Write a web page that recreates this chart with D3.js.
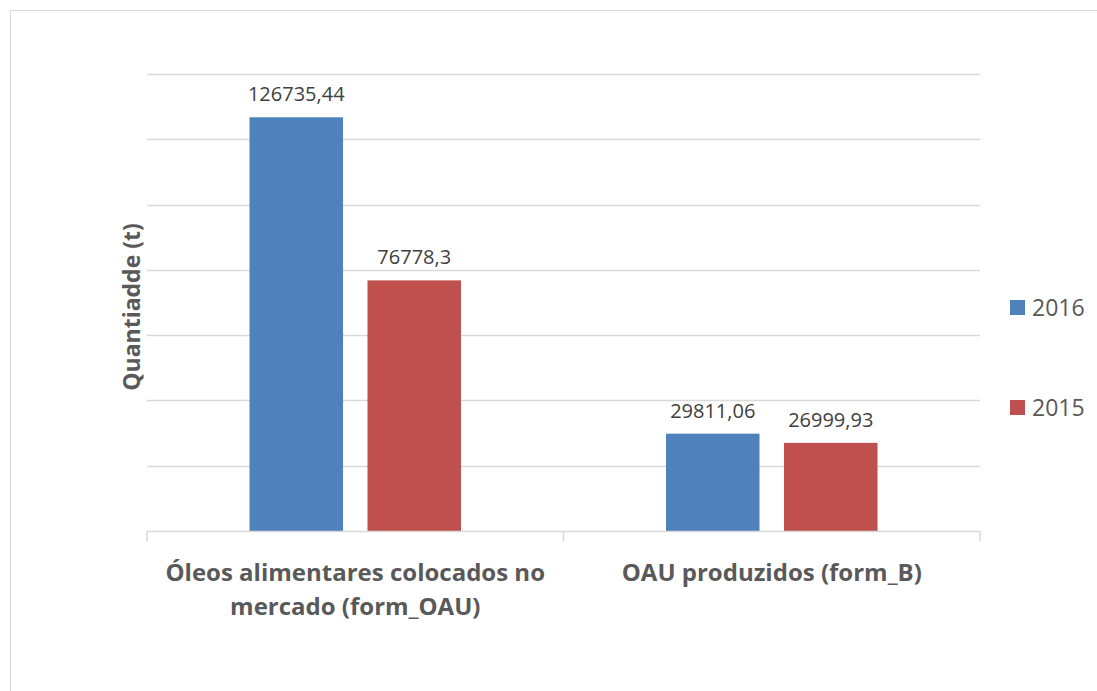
<!DOCTYPE html>
<html>
<head>
<meta charset="utf-8">
<script src="https://cdn.jsdelivr.net/npm/d3@7"></script>
<style>
  html, body { margin: 0; padding: 0; background: #fff; }
  svg { display: block; }
  text { font-family: "Open Sans", "Liberation Sans", sans-serif; }
</style>
</head>
<body>
<svg id="chart" width="1097" height="691"></svg>
<script>
// Categories, series and values
const categories = ["Óleos alimentares colocados no|mercado (form_OAU)", "OAU produzidos (form_B)"];
const seriesNames = ["2016", "2015"];
const values2016 = [126735.44, 29811.06];
const values2015 = [76778.3, 26999.93];
const valueLabels2016 = ["126735,44", "29811,06"];
const valueLabels2015 = ["76778,3", "26999,93"];
const gridTicks = [0, 20000, 40000, 60000, 80000, 100000, 120000, 140000];
const colors = ["#4F81BD", "#C0504D"];

const svg = d3.select("#chart");

// Outer chart frame
svg.append("rect")
  .attr("x", 10.5).attr("y", 10.5)
  .attr("width", 1100).attr("height", 700)
  .attr("fill", "none").attr("stroke", "#D9D9D9").attr("stroke-width", 1);

const plot = { left: 147, right: 980, top: 74, bottom: 531 };

const x = d3.scaleBand()
  .domain(categories)
  .range([plot.left, plot.right])
  .paddingInner(0).paddingOuter(0);

const y = d3.scaleLinear()
  .domain([0, 140000])
  .range([plot.bottom, plot.top]);

// Horizontal gridlines
svg.append("g")
  .selectAll("line")
  .data(gridTicks.slice(1))
  .join("line")
  .attr("x1", plot.left).attr("x2", plot.right)
  .attr("y1", d => Math.round(y(d)) + 0.5)
  .attr("y2", d => Math.round(y(d)) + 0.5)
  .attr("stroke", "#D9D9D9").attr("stroke-width", 1.5);

// Inner band for the two series within each category
const x1 = d3.scaleBand()
  .domain(seriesNames)
  .range([0, x.bandwidth()])
  .paddingInner(0.2076)
  .paddingOuter(0.8687);

const rows = categories.map((c, i) => ({
  cat: c,
  items: [
    { s: seriesNames[0], v: values2016[i], label: valueLabels2016[i] },
    { s: seriesNames[1], v: values2015[i], label: valueLabels2015[i] }
  ]
}));

const groups = svg.append("g")
  .selectAll("g")
  .data(rows)
  .join("g")
  .attr("transform", d => `translate(${x(d.cat)},0)`);

groups.selectAll("rect")
  .data(d => d.items)
  .join("rect")
  .attr("x", d => x1(d.s))
  .attr("width", x1.bandwidth())
  .attr("y", d => y(d.v))
  .attr("height", d => y(0) - y(d.v))
  .attr("fill", (d, i) => colors[i]);

groups.selectAll("text.val")
  .data(d => d.items)
  .join("text")
  .attr("class", "val")
  .attr("x", d => x1(d.s) + x1.bandwidth() / 2)
  .attr("y", d => y(d.v) - 16)
  .attr("text-anchor", "middle")
  .attr("font-size", "20px")
  .attr("fill", "#404040")
  .text(d => d.label);

// Category axis
const xAxis = svg.append("g")
  .attr("transform", `translate(0,${plot.bottom + 0.5})`);
xAxis.append("line")
  .attr("x1", plot.left).attr("x2", plot.right)
  .attr("stroke", "#D9D9D9").attr("stroke-width", 1.5);
const boundaries = [plot.left, ...categories.map(c => x(c) + x.bandwidth())];
xAxis.selectAll("line.tick")
  .data(boundaries)
  .join("line")
  .attr("class", "tick")
  .attr("x1", d => d).attr("x2", d => d)
  .attr("y1", 0).attr("y2", 10)
  .attr("stroke", "#D9D9D9").attr("stroke-width", 1.5);

const catLabels = xAxis.selectAll("text.cat")
  .data(categories)
  .join("text")
  .attr("class", "cat")
  .attr("text-anchor", "middle")
  .attr("font-size", "24px")
  .attr("font-weight", "bold")
  .attr("fill", "#595959");
catLabels.each(function(d) {
  const lines = d.split("|");
  const t = d3.select(this);
  lines.forEach((ln, i) => {
    t.append("tspan")
      .attr("x", x(d) + x.bandwidth() / 2)
      .attr("y", 49 + i * 34)
      .text(ln);
  });
});

// Y axis title
svg.append("text")
  .attr("transform", `translate(140,307) rotate(-90)`)
  .attr("text-anchor", "middle")
  .attr("font-size", "23px")
  .attr("font-weight", "bold")
  .attr("fill", "#595959")
  .text("Quantiadde (t)");

// Legend
const legend = svg.append("g")
  .selectAll("g")
  .data(seriesNames)
  .join("g")
  .attr("transform", (d, i) => `translate(1010,${300 + i * 100})`);
legend.append("rect")
  .attr("width", 15).attr("height", 15)
  .attr("fill", (d, i) => colors[i]);
legend.append("text")
  .attr("x", 22).attr("y", 16)
  .attr("font-size", "23px")
  .attr("fill", "#595959")
  .text(d => d);
</script>
</body>
</html>
